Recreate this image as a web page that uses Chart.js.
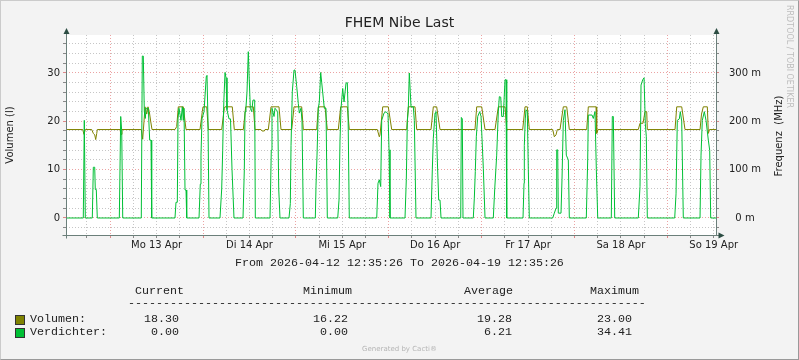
<!DOCTYPE html>
<html>
<head>
<meta charset="utf-8">
<script src="https://cdn.jsdelivr.net/npm/chart.js@4.4.1/dist/chart.umd.min.js"></script>
<style>
html,body{margin:0;padding:0;background:#f3f3f3;}
#wrap{position:relative;width:799px;height:360px;background:#f3f3f3;overflow:hidden;font-family:"DejaVu Sans",sans-serif;}
#wrap canvas{position:absolute;left:0;top:0;}
.frame{position:absolute;left:0;top:0;width:799px;height:360px;box-sizing:border-box;border-top:1px solid #cbcbcb;border-left:1px solid #cbcbcb;border-right:1px solid #999;border-bottom:1px solid #999;pointer-events:none;}
.mono{position:absolute;font-family:"Liberation Mono",monospace;font-size:11.67px;line-height:14px;color:#222;white-space:pre;}
.r{text-align:right;}
.sw{position:absolute;width:8px;height:8px;border:1px solid #333;}
</style>
</head>
<body>
<div id="wrap">
<canvas id="c" width="799" height="360"></canvas>
<div class="frame"></div>
</div>
<script>
// ---------------- data ----------------
const TITLE = 'FHEM Nibe Last';
const Y_TITLE_LEFT = 'Volumen (l)';
const Y_TITLE_RIGHT = 'Frequenz  (MHz)';
const WATERMARK = 'RRDTOOL / TOBI OETIKER';
const FOOTER = 'Generated by Cacti\u00ae';
const RANGE_TEXT = 'From 2026-04-12 12:35:26 To 2026-04-19 12:35:26';
const START_HOUR_OF_DAY = 12 + 35 / 60 + 26 / 3600; // start 2026-04-12 12:35:26
const RANGE_HOURS = 168;
const DAY_LABELS = ['Mo 13 Apr', 'Di 14 Apr', 'Mi 15 Apr', 'Do 16 Apr', 'Fr 17 Apr', 'Sa 18 Apr', 'So 19 Apr'];
const Y_LABEL_VALUES = [0, 10, 20, 30];
const Y_LABELS_LEFT = ['0', '10', '20', '30'];
const Y_LABELS_RIGHT = ['0 m', '100 m', '200 m', '300 m'];

// [hours since start, value]
const VOLUMEN = [
 [0,18.3],[4.32,18.3],[4.65,17.3],[4.99,18.3],[6.64,18.3],[7.06,17.5],[7.42,17.2],[7.68,16.22],[7.94,17.5],[8.09,18.3],
 [13.96,18.3],[14.22,17.3],[14.47,18.3],
 [19.46,18.3],[19.82,16.3],[20.16,20],[20.42,23],[20.86,21.5],[21.19,23],[21.53,22],[21.89,20],[22.23,18.3],
 [28.17,18.3],[28.61,18.9],[29.03,23],[30.32,23],[31.02,18.3],
 [34.63,18.3],[35.23,22],[35.41,23],[36.37,23],[36.78,18.3],
 [40.24,18.3],[40.92,22.7],[41.10,23],[42.98,23],[43.50,18.3],
 [45.83,18.3],[46.45,23],[48.41,23],[48.85,18.3],
 [50.40,18.3],[50.66,18.0],[51.26,18.0],[51.44,18.3],
 [52.29,18.3],[52.99,23],[55.05,23],[55.57,18.3],
 [58.34,18.3],[58.93,23],[60.92,23],[61.34,18.3],
 [64.80,18.3],[65.21,23],[66.94,23],[67.54,18.3],
 [70.38,18.3],[71.00,23],[72.71,23],[73.22,18.3],
 [80.46,18.3],[80.98,16.8],[81.16,17.2],[81.86,23],[83.30,23],[84.18,18.3],
 [88.06,18.3],[88.47,23],[90.21,23],[90.64,18.3],
 [94.34,18.3],[94.94,23],[95.81,23],[96.67,18.3],
 [105.71,18.3],[106.15,23],[107.45,23],[108.30,18.3],
 [110.88,18.3],[111.74,23],[113.47,23],[113.91,18.3],
 [118.04,18.3],[118.64,23],[119.23,23],[119.75,18.3],
 [125.80,18.3],[126.21,16.8],[126.65,17.2],[126.99,18.3],[127.68,18.3],[128.54,23],[129.42,23],[130.09,18.3],
 [134.58,18.3],[135.00,23],[136.99,23],[137.17,17.5],[137.51,18.3],
 [147.92,18.3],[148.36,19.6],[149.14,19.6],[149.65,22],[150.09,22],[150.25,18.3],
 [157.41,18.3],[157.85,23],[159.14,23],[159.99,18.3],
 [163.87,18.3],[164.26,21.5],[164.72,23],[165.76,23],[166.02,17.5],[166.33,18.3],[168,18.3]
];
const VERDICHTER = [
 [0,0],[4.47,0],[4.73,20.2],[4.99,0],[6.80,0],[7.06,10.5],[7.42,10.5],[7.57,5.9],[7.83,5.9],[8.09,0],
 [13.78,0],[14.14,21],[14.40,18],[14.66,0],
 [19.46,0],[19.72,33.5],[19.98,33.5],[20.24,22],[20.50,20.6],[20.68,22.7],[21.27,22.7],[21.63,16.1],[21.97,16.1],[22.15,0],
 [28.17,0],[28.43,3.25],[28.77,3.25],[28.95,20.5],[29.21,22.7],[29.72,20.2],[30.06,23],[30.32,20.2],[30.50,22.7],[30.76,5.8],[31.02,5.8],[31.20,0],
 [34.38,0],[34.71,7],[34.89,13],[35.15,20.5],[35.67,22],[36.26,29.3],[36.44,29.5],[36.70,20.2],[36.96,0],
 [39.80,0],[40.24,6],[40.50,14],[40.66,20.5],[40.84,25],[41.10,30.1],[41.36,29],[41.61,22.4],[42.13,20.5],[42.52,20.5],[42.91,10],[43.42,0],
 [45.75,0],[46.09,10],[46.27,22],[46.52,23],[46.78,26],[47.12,34.41],[47.30,30],[47.64,22.7],[48.00,22],[48.33,24.4],[48.77,24.4],[48.93,0],
 [52.73,0],[53.06,14],[53.24,22.7],[53.76,21],[54.02,22.7],[54.72,22],[54.98,6],[55.31,0],
 [57.64,0],[57.98,3],[58.16,15],[58.49,26.1],[58.93,30.6],[59.19,30.6],[59.63,27.2],[60.04,23.7],[60.30,21.7],[60.74,22.7],[61.00,20],[61.34,0],
 [64.44,0],[64.62,6.8],[64.88,13],[65.21,22.7],[65.47,24],[65.83,30.1],[66.09,28],[66.50,24.8],[66.76,22.7],[67.20,22.7],[67.54,0],
 [70.23,0],[70.56,3.7],[70.82,16],[71.08,22.7],[71.52,26.8],[71.86,24],[72.37,27.9],[72.71,28],[72.89,22.7],[73.22,0],
 [80.31,0],[80.64,7.2],[80.98,7.9],[81.34,6.5],[81.60,20.2],[82.19,21.7],[82.71,22],[83.23,21.5],[83.49,14.1],[83.74,0],
 [87.62,0],[87.96,8],[88.22,20],[88.47,22.5],[88.73,30],[88.99,26],[89.17,23],[89.77,23],[90.03,20.2],[90.46,0],
 [94.34,0],[94.68,10],[94.94,16.5],[95.38,21.7],[95.63,22],[95.97,12],[96.33,3.7],[96.67,3.7],[96.93,0],
 [102.02,0],[102.18,20.8],[102.43,20.5],[102.61,0],
 [105.27,0],[105.53,4],[105.79,9.6],[106.05,16.8],[106.41,21],[106.93,22],[107.27,21],[107.86,10.3],[108.30,0],
 [110.44,0],[110.81,6],[111.32,13],[111.74,22],[112.00,25.1],[112.36,25],[112.62,21],[113.03,21],[113.47,28.6],[113.73,28.6],[113.91,0],
 [118.12,0],[118.38,7.2],[118.46,15],[118.71,20.5],[118.90,22.4],[119.23,22],[119.49,10],[119.75,0],
 [125.80,0],[126.21,1],[126.65,2],[126.83,14.1],[127.09,14.1],[127.24,1],[127.94,1],[128.20,8],[128.54,20.2],[128.97,22.4],[129.31,13],[129.83,12],[130.09,0],
 [134.48,0],[134.84,12],[135.00,21.3],[135.96,21.3],[136.29,20.6],[136.73,22],[137.07,10],[137.43,0],
 [140.94,0],[141.20,21],[141.46,21],[141.82,0],
 [147.92,0],[148.36,6.5],[148.62,27.5],[149.06,28.6],[149.40,29],[149.73,19.5],[149.99,16.8],[150.25,0],
 [157.33,0],[157.67,5],[158.00,20.2],[158.52,20.5],[158.78,22],[159.14,20],[159.55,0],
 [163.87,0],[164.13,13],[164.46,20.2],[164.98,22],[165.42,20.2],[166.02,16.1],[166.37,14],[166.63,0],[168,0]
];

// legend table
const SERIES_NAMES = ['Volumen:', 'Verdichter:'];
const STAT_HEADERS = ['Current', 'Minimum', 'Average', 'Maximum'];
const STAT_CURRENT = ['18.30', '0.00'];
const STAT_MINIMUM = ['16.22', '0.00'];
const STAT_AVERAGE = ['19.28', '6.21'];
const STAT_MAXIMUM = ['23.00', '34.41'];

// ---------------- styles ----------------
const OLIVE = '#7f8200';
const GREEN = '#00c035';
const GRID = '#c6c6c6';
const MGRID = '#eba3a3';
const AXIS = '#6b7f7a';
const ARROW = '#2c4d43';
const TEXT = '#222';

// ---------------- helpers ----------------
const FIRST_MIDNIGHT = 24 - START_HOUR_OF_DAY;
const X_TICKS = [];
for (let t = FIRST_MIDNIGHT - 6; t <= RANGE_HOURS + 1e-6; t += 6) if (t >= 0) X_TICKS.push(t);
const Y_TICKS = [];
for (let v = -2; v <= 36; v += 2) Y_TICKS.push(v);
const modN = (a, n) => ((a % n) + n) % n;
const isMidnight = v => { const m = modN(v - FIRST_MIDNIGHT, 24); return m < 0.01 || m > 23.99; };
const isNoon = v => Math.abs(modN(v - FIRST_MIDNIGHT, 24) - 12) < 0.01;
const xLabel = v => {
  if (!isNoon(v)) return '';
  const i = Math.round((v - FIRST_MIDNIGHT - 12) / 24);
  return DAY_LABELS[i] || '';
};
const isMajorY = v => Math.abs(modN(v, 10)) < 1e-6;
const yLabel = (v, labels) => {
  const i = Y_LABEL_VALUES.indexOf(v);
  return i >= 0 ? labels[i] : '';
};

const rrdPlugin = {
  id: 'rrd',
  beforeDraw(chart) {
    const {ctx, chartArea: a} = chart;
    ctx.save();
    ctx.fillStyle = '#ffffff';
    ctx.fillRect(a.left, a.top, a.right - a.left, a.bottom - a.top);
    ctx.restore();
  },
  afterDraw(chart) {
    const {ctx, chartArea: a} = chart;
    const L = Math.round(a.left) + 0.5, R = Math.round(a.right) + 0.5, B = Math.round(a.bottom) + 0.5, T = Math.round(a.top);
    ctx.save();
    ctx.strokeStyle = AXIS; ctx.lineWidth = 1;
    ctx.beginPath();
    ctx.moveTo(L, T - 2); ctx.lineTo(L, B + 3);
    ctx.moveTo(L - 4, B); ctx.lineTo(R + 3, B);
    ctx.moveTo(R, T - 2); ctx.lineTo(R, B);
    ctx.stroke();
    ctx.fillStyle = ARROW;
    const tri = (p) => { ctx.beginPath(); ctx.moveTo(p[0], p[1]); ctx.lineTo(p[2], p[3]); ctx.lineTo(p[4], p[5]); ctx.closePath(); ctx.fill(); };
    tri([L, T - 7, L - 3, T - 1, L + 3, T - 1]);
    tri([R, T - 7, R - 3, T - 1, R + 3, T - 1]);
    tri([R + 8, B, R + 2, B - 3, R + 2, B + 3]);
    ctx.restore();
  }
};

const tickFont = {family: 'DejaVu Sans', size: 10};
const gridX = {
  color: c => (c.tick && isMidnight(c.tick.value)) ? MGRID : GRID,
  tickColor: c => (c.tick && isMidnight(c.tick.value)) ? '#d88' : '#888',
  lineWidth: 1, drawTicks: true, tickLength: 3
};
const gridY = {
  color: c => (c.tick && isMajorY(c.tick.value)) ? MGRID : GRID,
  tickColor: c => (c.tick && isMajorY(c.tick.value)) ? '#d88' : '#888',
  lineWidth: 1, drawTicks: true, tickLength: 3
};

new Chart(document.getElementById('c'), {
  type: 'line',
  data: {
    datasets: [
      {label: 'Volumen', data: VOLUMEN.map(p => ({x: p[0], y: p[1]})), borderColor: OLIVE, backgroundColor: OLIVE,
       borderWidth: 1, pointRadius: 0, tension: 0, fill: false, order: 1, yAxisID: 'y'},
      {label: 'Verdichter', data: VERDICHTER.map(p => ({x: p[0], y: p[1]})), borderColor: GREEN, backgroundColor: GREEN,
       borderWidth: 1, pointRadius: 0, tension: 0, fill: false, order: 0, yAxisID: 'y'}
    ]
  },
  options: {
    responsive: false, animation: false, events: [],
    layout: {padding: 0},
    plugins: {
      legend: {display: false}, tooltip: {enabled: false},
      title: {display: true, text: TITLE, color: TEXT, font: {family: 'DejaVu Sans', size: 14, weight: 'normal', lineHeight: 1.2},
              padding: {top: 15, bottom: 3.2}}
    },
    scales: {
      x: {
        type: 'linear', position: 'bottom', min: 0, max: RANGE_HOURS,
        afterFit: s => { s.height = 125; },
        afterBuildTicks: s => { s.ticks = X_TICKS.map(v => ({value: v})); },
        grid: gridX, border: {display: false, dash: [1, 2]},
        ticks: {autoSkip: false, maxRotation: 0, minRotation: 0, padding: 1, font: tickFont, color: TEXT, callback: v => xLabel(v)}
      },
      y: {
        type: 'linear', position: 'left', min: -3.52, max: 37.86,
        afterFit: s => { s.width = 66; },
        afterBuildTicks: s => { s.ticks = Y_TICKS.map(v => ({value: v})); },
        grid: gridY, border: {display: false, dash: [1, 2]},
        ticks: {autoSkip: false, padding: 3, font: tickFont, color: TEXT, callback: v => yLabel(v, Y_LABELS_LEFT)},
        title: {display: true, text: Y_TITLE_LEFT, color: TEXT, font: {family: 'DejaVu Sans', size: 10}, padding: {top: 4.5, bottom: 4}}
      },
      y2: {
        type: 'linear', position: 'right', min: -3.52, max: 37.86,
        afterFit: s => { s.width = 83; },
        afterBuildTicks: s => { s.ticks = Y_TICKS.map(v => ({value: v})); },
        grid: Object.assign({}, gridY, {drawOnChartArea: false}), border: {display: false},
        ticks: {autoSkip: false, padding: 10, crossAlign: 'center', font: tickFont, color: TEXT, callback: v => yLabel(v, Y_LABELS_RIGHT)}
      }
    }
  },
  plugins: [rrdPlugin]
});

// ---------------- HTML text parts ----------------
const wrap = document.getElementById('wrap');
function addEl(html, style, cls) {
  const d = document.createElement('div');
  if (cls) d.className = cls;
  d.style.cssText = style;
  d.textContent = html;
  wrap.appendChild(d);
  return d;
}
addEl(Y_TITLE_RIGHT, 'position:absolute;left:779px;top:136px;transform:translate(-50%,-50%) rotate(-90deg);white-space:pre;font:10px "DejaVu Sans";line-height:12px;color:' + TEXT + ';');
addEl(WATERMARK, 'position:absolute;left:785px;top:5px;writing-mode:vertical-rl;white-space:pre;font:8px "DejaVu Sans";line-height:9px;color:#bdbdbd;');
addEl(RANGE_TEXT, 'left:0;width:799px;text-align:center;top:256px;', 'mono');
const HEAD_LEFT = [135, 303, 464, 590];
STAT_HEADERS.forEach((h, i) => addEl(h, 'left:' + HEAD_LEFT[i] + 'px;top:284px;', 'mono'));
addEl('-'.repeat(74), 'left:128px;top:296px;', 'mono');
const VAL_RIGHT = [179, 348, 512, 632];
const ROW_TOP = [312, 325];
const SW_COLORS = [OLIVE, GREEN];
SERIES_NAMES.forEach((n, r) => {
  const sw = document.createElement('div');
  sw.className = 'sw';
  sw.style.cssText = 'left:15px;top:' + (ROW_TOP[r] + 3) + 'px;background:' + SW_COLORS[r] + ';';
  wrap.appendChild(sw);
  addEl(n, 'left:30px;top:' + ROW_TOP[r] + 'px;', 'mono');
  [STAT_CURRENT, STAT_MINIMUM, STAT_AVERAGE, STAT_MAXIMUM].forEach((arr, c) => {
    addEl(arr[r], 'left:' + (VAL_RIGHT[c] - 80) + 'px;width:80px;top:' + ROW_TOP[r] + 'px;', 'mono r');
  });
});
addEl(FOOTER, 'position:absolute;left:0;width:799px;text-align:center;top:345px;font:7px "DejaVu Sans";line-height:9px;color:#b5b5b5;');
</script>
</body>
</html>
